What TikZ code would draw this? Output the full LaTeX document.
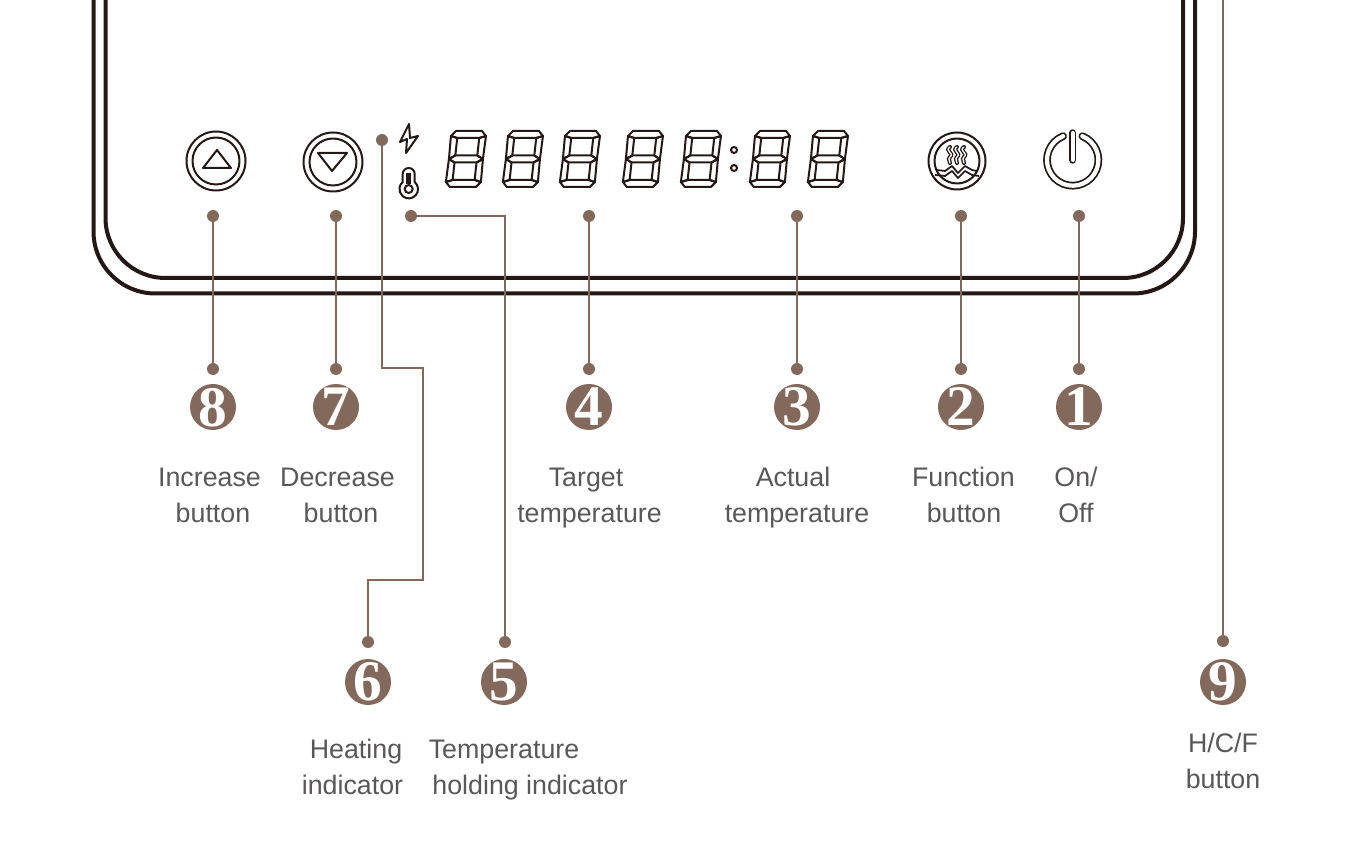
\documentclass[tikz,border=0pt]{standalone}
\usepackage{fontspec}
\setmainfont{Liberation Sans}
\newfontfamily\numfont{Liberation Serif}[BoldFont={Liberation Serif Bold}]
\definecolor{brownc}{HTML}{82695C}
\definecolor{textc}{HTML}{595757}
\definecolor{inkc}{HTML}{231815}
\newcommand{\numglyph}[1]{\makebox[0pt]{\raisebox{-.5\height}[0pt][0pt]{\fontsize{43}{43}\numfont\bfseries #1}}}
\newcommand{\segdigit}[1]{%
 \begin{scope}[shift={(#1+6,131)},xslant=.11,seg/.style={draw=inkc,line width=1.5pt,line join=round}]
  \draw[seg] (.5,5)--(5,0)--(31,0)--(35.5,5)--(29,7)--(7,7)--cycle;
  \draw[seg] (.5,51)--(5,56)--(31,56)--(35.5,51)--(29,49)--(7,49)--cycle;
  \draw[seg] (1,28)--(7,24.5)--(29,24.5)--(35,28)--(29,31.5)--(7,31.5)--cycle;
  \draw[seg] (.5,5)--(7,7)--(7,24.5)--(1,28)--cycle;
  \draw[seg] (35.5,5)--(29,7)--(29,24.5)--(35,28)--cycle;
  \draw[seg] (.5,51)--(7,49)--(7,31.5)--(1,28)--cycle;
  \draw[seg] (35.5,51)--(29,49)--(29,31.5)--(35,28)--cycle;
 \end{scope}}
\tikzset{
 x=.75pt,y=-.75pt,
 frameline/.style={draw=inkc,line width=3pt},
 iconline/.style={draw=inkc,line width=1.5pt,line join=round},
 dotn/.style={circle,fill=brownc,minimum size=9pt,inner sep=0pt},
 numn/.style={circle,fill=brownc,minimum size=34.5pt,inner sep=0pt,text=white},
 leader/.style={draw=brownc,line width=1.6pt},
 lbl/.style={anchor=base,inner sep=0pt,text=textc,font=\fontsize{20.1}{24}\selectfont},
}
\begin{document}
\begin{tikzpicture}
\useasboundingbox (0,0) rectangle (1368,855);
% frame
\draw[frameline] (93.5,0) -- (93.5,231.5) arc[start angle=180,end angle=270,radius=62*.75pt] -- (1133,293.5) arc[start angle=270,end angle=360,radius=62*.75pt] -- (1195,0);
\draw[frameline] (105.5,0) -- (105.5,218) arc[start angle=180,end angle=270,radius=60*.75pt] -- (1123,278) arc[start angle=270,end angle=360,radius=60*.75pt] -- (1183,0);
% up / down buttons
\draw[iconline] (216,161) circle[radius=29.5*.75pt] (216,161) circle[radius=23.5*.75pt];
\draw[iconline] (203,168)--(231,168)--(217,150)--cycle;
\draw[iconline] (333,162) circle[radius=29.5*.75pt] (333,162) circle[radius=23.5*.75pt];
\draw[iconline] (318,153)--(347,153)--(332,171)--cycle;
% lightning
\draw[iconline] (409,124)--(400,142)--(407,139)--(406,153)--(418,136)--(410,138)--cycle;
% thermometer
\draw[iconline] (402.7,182) -- (402.7,174) arc[start angle=180,end angle=0,radius=6*.75pt] -- (414.7,182) arc[start angle=50,end angle=-230,radius=9.3*.75pt] -- cycle;
\draw[inkc,line width=3.4pt] (408.7,173) -- (408.7,184);
\draw[inkc,line width=1.5pt,fill=white] (408.7,189) circle[radius=4*.75pt];
% digits
\foreach \xx in {445,502,559,622,680,749,807}{\segdigit{\xx}}
\draw[iconline] (734,150) circle[radius=3*.75pt] (734,168) circle[radius=3*.75pt];
% function button
\draw[iconline] (957,161) circle[radius=28.5*.75pt] (957,161) circle[radius=22.5*.75pt];
\foreach \xx in {950,957,964}{
 \draw[inkc,line width=3pt,line cap=round] (\xx,147) .. controls (\xx-6,151) and (\xx+5,153) .. (\xx,157) .. controls (\xx-3,160) and (\xx+1,161) .. (\xx,163);
 \draw[white,line width=1pt,line cap=round] (\xx,147) .. controls (\xx-6,151) and (\xx+5,153) .. (\xx,157) .. controls (\xx-3,160) and (\xx+1,161) .. (\xx,163);
}
\draw[iconline,line width=1.3pt,fill=white] (937,170)--(945,171)--(952,166)--(958,173)--(965,166)--(972,170)--(977,171);
\draw[iconline,line width=1.3pt] (935,175)--(945,176)--(952,171)--(958,178)--(965,171)--(972,175)--(979,176);
% power button
\draw[inkc,line width=5.8pt,line cap=round] (1072.7,160) ++(68:25.7*.75pt) arc[start angle=68,end angle=-248,radius=25.7*.75pt];
\draw[white,line width=3.2pt,line cap=round] (1072.7,160) ++(68:25.7*.75pt) arc[start angle=68,end angle=-248,radius=25.7*.75pt];
\draw[inkc,line width=5.6pt,line cap=round] (1072.7,133) -- (1072.7,160);
\draw[white,line width=3pt,line cap=round] (1072.7,133) -- (1072.7,160);
% dots
\node[dotn] (a8) at (213,216) {};
\node[dotn] (a7) at (336,216) {};
\node[dotn] (a6) at (382,140) {};
\node[dotn] (a5) at (411,216) {};
\node[dotn] (a4) at (589,216) {};
\node[dotn] (a3) at (797,216) {};
\node[dotn] (a2) at (961,216) {};
\node[dotn] (a1) at (1079,216) {};
\coordinate (a9) at (1223,0);
\node[dotn] (b8) at (213,369) {};
\node[dotn] (b7) at (336,369) {};
\node[dotn] (b6) at (368,642) {};
\node[dotn] (b5) at (505,642) {};
\node[dotn] (b4) at (589,369) {};
\node[dotn] (b3) at (797,369) {};
\node[dotn] (b2) at (961,369) {};
\node[dotn] (b1) at (1079,369) {};
\node[dotn] (b9) at (1223,641) {};
% connectors
\foreach \k in {1,2,3,4,7,8,9}{\draw[leader] (a\k) -- (b\k);}
\draw[leader] (a6) -- (382,368) -- (423,368) -- (423,580) -- (368,580) -- (b6);
\draw[leader] (a5) -- (505,216) -- (b5);
% number badges
\node[numn] (n8) at (213,407) {\numglyph{8}};
\node[numn] (n7) at (336,407) {\numglyph{7}};
\node[numn] (n4) at (589,407) {\numglyph{4}};
\node[numn] (n3) at (797,407) {\numglyph{3}};
\node[numn] (n2) at (961,407) {\numglyph{2}};
\node[numn] (n1) at (1079,407) {\numglyph{1}};
\node[numn] (n6) at (368,682) {\numglyph{6}};
\node[numn] (n5) at (504,682) {\numglyph{5}};
\node[numn] (n9) at (1223,682) {\numglyph{9}};
% labels
\node[lbl] (l8a) at (209.5,486.5) {Increase};
\node[lbl] (l8b) at (213,522.5) {button};
\node[lbl] (l7a) at (337.5,486.5) {Decrease};
\node[lbl] (l7b) at (341,522.5) {button};
\node[lbl] (l4a) at (586,486.5) {Target};
\node[lbl] (l4b) at (589.5,522.5) {temperature};
\node[lbl] (l3a) at (793,486.5) {Actual};
\node[lbl] (l3b) at (797,522.5) {temperature};
\node[lbl] (l2a) at (963.5,486.5) {Function};
\node[lbl] (l2b) at (964,522.5) {button};
\node[lbl] (l1a) at (1076,486.5) {On/};
\node[lbl] (l1b) at (1076,522.5) {Off};
\node[lbl] (l6a) at (356,758) {Heating};
\node[lbl] (l6b) at (352.5,794) {indicator};
\node[lbl] (l5a) at (504,758) {Temperature};
\node[lbl] (l5b) at (530,794) {holding indicator};
\node[lbl] (l9a) at (1223,752) {H/C/F};
\node[lbl] (l9b) at (1223,788) {button};
\end{tikzpicture}
\end{document}
